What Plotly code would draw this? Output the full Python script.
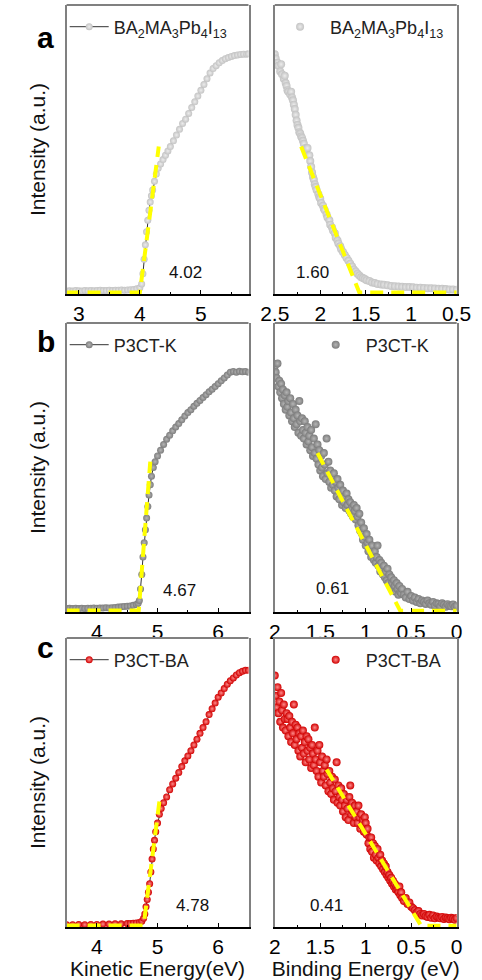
import plotly.graph_objects as go

# ---------------- data (normalised intensity) ----------------
KE_A_X = [2.80, 2.85, 2.90, 2.95, 3.00, 3.05, 3.10, 3.15, 3.20, 3.25, 3.30, 3.35, 3.40, 3.45, 3.50,
          3.55, 3.60, 3.65, 3.70, 3.75, 3.80, 3.85, 3.90, 3.95, 4.00, 4.03, 4.05, 4.07, 4.09, 4.11,
          4.13, 4.15, 4.17, 4.19, 4.21, 4.24, 4.27, 4.30, 4.34, 4.38, 4.42, 4.46, 4.50, 4.55, 4.60,
          4.65, 4.70, 4.75, 4.80, 4.85, 4.90, 4.95, 5.00, 5.05, 5.10, 5.15, 5.20, 5.25, 5.30, 5.35,
          5.40, 5.45, 5.50, 5.55, 5.60, 5.65, 5.70, 5.75, 5.78]
KE_A_Y = [.010, .011, .010, .012, .011, .010, .012, .011, .012, .011, .012, .013, .012, .012, .013,
          .012, .013, .013, .014, .013, .014, .015, .016, .018, .022, .035, .070, .120, .170, .215,
          .255, .290, .318, .340, .360, .390, .415, .435, .450, .465, .480, .495, .510, .530, .550,
          .570, .590, .605, .625, .645, .665, .685, .705, .725, .745, .765, .780, .790, .800, .808,
          .814, .818, .822, .825, .827, .829, .830, .830, .831]

BE_A_X = [2.50, 2.49, 2.47, 2.46, 2.44, 2.43, 2.42, 2.40, 2.39, 2.38, 2.37, 2.36, 2.35, 2.33, 2.32,
          2.31, 2.30, 2.29, 2.28, 2.27, 2.26, 2.25, 2.24, 2.23, 2.22, 2.21, 2.20, 2.19, 2.18, 2.16,
          2.15, 2.14, 2.12, 2.11, 2.10, 2.09, 2.08, 2.07, 2.06, 2.05, 2.04, 2.02, 2.01, 2.00, 1.99,
          1.97, 1.96, 1.95, 1.93, 1.92, 1.90, 1.89, 1.87, 1.86, 1.84, 1.83, 1.81, 1.80, 1.78, 1.77,
          1.75, 1.73, 1.71, 1.69, 1.67, 1.65, 1.63, 1.61, 1.59, 1.57, 1.55, 1.53, 1.51, 1.49, 1.46,
          1.43, 1.40, 1.37, 1.33, 1.30, 1.26, 1.22, 1.18, 1.14, 1.10, 1.06, 1.02, 0.98, 0.94, 0.90,
          0.86, 0.82, 0.78, 0.74, 0.70, 0.66, 0.62, 0.58, 0.54, 0.50]
BE_A_Y = [.830, .815, .800, .790, .770, .795, .760, .745, .755, .730, .720, .705, .700, .690, .700,
          .680, .670, .655, .640, .620, .600, .585, .575, .560, .555, .545, .540, .530, .520, .505,
          .500, .505, .480, .460, .440, .420, .405, .395, .380, .370, .360, .345, .335, .330, .315,
          .305, .295, .290, .275, .265, .255, .240, .230, .220, .210, .195, .185, .175, .165, .155,
          .145, .135, .125, .115, .105, .095, .085, .078, .070, .064, .058, .055, .052, .048, .045,
          .040, .038, .035, .033, .032, .030, .028, .027, .026, .025, .024, .024, .023, .022, .022,
          .021, .020, .020, .019, .018, .018, .017, .016, .016, .015]

KE_B_X = [3.50, 3.55, 3.60, 3.65, 3.70, 3.75, 3.80, 3.85, 3.90, 3.95, 4.00, 4.05, 4.10, 4.15, 4.20,
          4.25, 4.30, 4.35, 4.40, 4.45, 4.50, 4.55, 4.60, 4.65, 4.68, 4.70, 4.72, 4.74, 4.76, 4.78,
          4.80, 4.82, 4.84, 4.86, 4.88, 4.90, 4.93, 4.96, 5.00, 5.05, 5.10, 5.15, 5.20, 5.25, 5.30,
          5.35, 5.40, 5.45, 5.50, 5.55, 5.60, 5.65, 5.70, 5.75, 5.80, 5.85, 5.90, 5.95, 6.00, 6.05,
          6.10, 6.15, 6.20, 6.25, 6.30, 6.35, 6.40, 6.45, 6.50]
KE_B_Y = [.012, .013, .012, .013, .012, .013, .012, .013, .013, .014, .013, .014, .014, .015, .014,
          .015, .016, .017, .018, .019, .020, .021, .023, .026, .030, .040, .080, .130, .190, .240,
          .285, .325, .365, .405, .440, .470, .500, .520, .540, .560, .580, .598, .612, .627, .640,
          .652, .665, .678, .690, .700, .712, .722, .732, .742, .752, .762, .771, .780, .790, .800,
          .810, .820, .830, .832, .830, .833, .831, .832, .830]

BE_B_X = [2.00, 1.99, 1.98, 1.97, 1.96, 1.95, 1.94, 1.93, 1.92, 1.91, 1.90, 1.89, 1.88, 1.87, 1.86,
          1.85, 1.84, 1.83, 1.82, 1.81, 1.80, 1.79, 1.78, 1.77, 1.76, 1.75, 1.74, 1.73, 1.72, 1.71,
          1.70, 1.69, 1.68, 1.67, 1.66, 1.65, 1.64, 1.63, 1.62, 1.61, 1.60, 1.59, 1.58, 1.57, 1.56,
          1.55, 1.54, 1.53, 1.52, 1.51, 1.50, 1.49, 1.48, 1.47, 1.46, 1.45, 1.44, 1.43, 1.42, 1.41,
          1.40, 1.39, 1.38, 1.37, 1.36, 1.35, 1.34, 1.33, 1.32, 1.31, 1.30, 1.29, 1.28, 1.27, 1.26,
          1.25, 1.24, 1.23, 1.22, 1.21, 1.20, 1.19, 1.18, 1.17, 1.16, 1.15, 1.14, 1.13, 1.12, 1.11,
          1.10, 1.09, 1.08, 1.07, 1.06, 1.05, 1.04, 1.03, 1.02, 1.01, 1.00, 0.99, 0.98, 0.97, 0.96,
          0.95, 0.94, 0.93, 0.92, 0.91, 0.90, 0.89, 0.88, 0.87, 0.86, 0.85, 0.84, 0.83, 0.82, 0.81,
          0.80, 0.79, 0.78, 0.77, 0.76, 0.75, 0.74, 0.73, 0.72, 0.71, 0.70, 0.69, 0.68, 0.67, 0.66,
          0.65, 0.64, 0.63, 0.62, 0.61, 0.60, 0.58, 0.56, 0.54, 0.52, 0.50, 0.48, 0.46, 0.44, 0.42,
          0.40, 0.38, 0.36, 0.34, 0.32, 0.30, 0.28, 0.26, 0.24, 0.22, 0.20, 0.18, 0.16, 0.14, 0.12,
          0.10, 0.08, 0.06, 0.04, 0.02, 0.00]
BE_B_Y = [.85, .83, .81, .86, .78, .80, .76, .79, .74, .77, .72, .75, .70, .76, .71,
          .73, .68, .74, .69, .66, .72, .67, .64, .70, .65, .68, .62, .73, .66, .61,
          .67, .63, .60, .66, .62, .58, .64, .59, .61, .56, .63, .57, .54, .60, .55,
          .65, .53, .58, .51, .56, .49, .54, .50, .47, .55, .51, .46, .60, .48, .52,
          .45, .49, .43, .47, .44, .48, .42, .45, .40, .46, .43, .39, .44, .41, .37,
          .42, .38, .40, .36, .41, .37, .39, .35, .38, .34, .36, .33, .37, .35, .32,
          .36, .33, .30, .34, .28, .31, .27, .25, .29, .26, .23, .27, .24, .21, .25,
          .22, .19, .23, .20, .18, .21, .17, .19, .23, .16, .18, .14, .17, .15, .13,
          .16, .12, .14, .11, .15, .10, .13, .09, .12, .10, .08, .11, .09, .07, .10,
          .08, .06, .09, .07, .065, .08, .06, .05, .07, .045, .055, .04, .05, .035, .045,
          .03, .04, .035, .028, .04, .03, .025, .035, .022, .03, .028, .02, .03, .025, .018,
          .027, .022, .02, .026, .018, .022]

KE_C_X = [3.50, 3.60, 3.70, 3.80, 3.90, 4.00, 4.10, 4.20, 4.30, 4.40, 4.50, 4.55, 4.60, 4.65, 4.70,
          4.74, 4.77, 4.79, 4.81, 4.83, 4.85, 4.87, 4.89, 4.91, 4.93, 4.95, 4.97, 5.00, 5.03, 5.06,
          5.10, 5.15, 5.20, 5.25, 5.30, 5.35, 5.40, 5.45, 5.50, 5.55, 5.60, 5.65, 5.70, 5.75, 5.80,
          5.85, 5.90, 5.95, 6.00, 6.05, 6.10, 6.15, 6.20, 6.25, 6.30, 6.35, 6.40, 6.45, 6.50]
KE_C_Y = [.008, .008, .009, .008, .009, .009, .010, .010, .011, .011, .012, .012, .013, .014, .016,
          .020, .030, .045, .070, .095, .120, .150, .190, .235, .270, .300, .330, .360, .390, .410,
          .430, .450, .475, .495, .515, .535, .555, .575, .592, .610, .630, .650, .670, .690, .710,
          .735, .755, .775, .795, .810, .825, .840, .852, .862, .872, .880, .885, .888, .888]

BE_C_X = BE_B_X[:]
BE_C_Y = [.87, .80, .76, .83, .74, .78, .71, .81, .75, .69, .77, .72, .68, .74, .72,
          .66, .73, .69, .64, .71, .67, .77, .63, .70, .65, .69, .61, .67, .59, .66,
          .62, .68, .60, .64, .57, .66, .61, .65, .58, .62, .55, .63, .60, .56, .69,
          .58, .54, .61, .52, .63, .57, .50, .59, .54, .52, .56, .49, .58, .53, .47,
          .54, .50, .46, .52, .48, .44, .51, .47, .57, .43, .49, .45, .42, .48, .44,
          .40, .46, .42, .38, .44, .41, .37, .45, .49, .39, .43, .40, .36, .42, .38,
          .40, .36, .42, .38, .34, .39, .35, .37, .33, .38, .36, .32, .34, .29, .31,
          .27, .31, .26, .29, .24, .28, .25, .23, .27, .24, .22, .25, .21, .23, .20,
          .22, .19, .21, .18, .19, .17, .18, .16, .17, .15, .16, .14, .15, .13, .14,
          .13, .12, .14, .11, .12, .10, .09, .10, .08, .085, .07, .065, .058, .05, .055,
          .045, .04, .045, .038, .035, .042, .032, .04, .03, .036, .033, .03, .035, .028, .033,
          .03, .027, .032, .029, .025, .031]

# extrapolation lines (yellow dashed): baseline + linear fit
FIT_A_L = ([2.80, 4.00, 4.31], [0.005, 0.005, 0.51])
FIT_A_R = ([2.21, 1.57, 0.50], [0.51, 0.005, 0.005])
FIT_B_L = ([3.50, 4.69, 4.88], [0.005, 0.005, 0.52])
FIT_B_R = ([1.53, 0.62, 0.00], [0.55, 0.004, 0.004])
FIT_C_L = ([3.50, 4.77, 5.04], [0.005, 0.005, 0.45])
FIT_C_R = ([1.43, 0.39, 0.00], [0.545, 0.004, 0.004])

VALUES = ["4.02", "1.60", "4.67", "0.61", "4.78", "0.41"]
VALUE_POS = [(4.75, 0.073), (2.08, 0.073), (5.36, 0.073), (1.36, 0.083), (5.57, 0.076), (1.43, 0.076)]
NAMES = ["BA<sub>2</sub>MA<sub>3</sub>Pb<sub>4</sub>I<sub>13</sub>", "P3CT-K", "P3CT-BA"]
LETTERS = ["a", "b", "c"]

# ---------------- layout helpers ----------------
W, H = 482, 980
FONT = "Liberation Sans, Arial, sans-serif"
ROWS = [(5, 294), (323, 612), (638, 927)]
COLS = [(55, 249), (277, 471)]
XRANGES = [[2.8, 5.78], [2.5, 0.5], [3.5, 6.5], [2.0, 0.0], [3.5, 6.5], [2.0, 0.0]]
XTICKS = [[3, 4, 5], [2.5, 2, 1.5, 1, 0.5], [4, 5, 6], [2, 1.5, 1, 0.5, 0], [4, 5, 6], [2, 1.5, 1, 0.5, 0]]
XTEXT = [["3", "4", "5"], ["2.5", "2", "1.5", "1", "0.5"], ["4", "5", "6"],
         ["2", "1.5", "1", "0.5", "0"], ["4", "5", "6"], ["2", "1.5", "1", "0.5", "0"]]
MINOR = [0.5, 0.25, 0.5, 0.25, 0.5, 0.25]
MCOL = ["#c3c3c3", "#7d7d7d", "#d00000"]
MCEN = ["#ececec", "#b5b5b5", "#ff8a8a"]
LEG_Y = [27, 345, 660]
LEG_LX = [53, 53, 53]
LEG_RX = [272, 310, 310]

DATA = [(KE_A_X, KE_A_Y), (BE_A_X, BE_A_Y), (KE_B_X, KE_B_Y), (BE_B_X, BE_B_Y), (KE_C_X, KE_C_Y), (BE_C_X, BE_C_Y)]
FITS = [FIT_A_L, FIT_A_R, FIT_B_L, FIT_B_R, FIT_C_L, FIT_C_R]

fig = go.Figure()
layout = dict(width=W, height=H, margin=dict(l=0, r=0, t=0, b=0),
              paper_bgcolor="white", plot_bgcolor="white",
              font=dict(family=FONT, color="black"), showlegend=True)
annotations = []
shapes = []

for i in range(6):
    r, c = i // 2, i % 2
    n = "" if i == 0 else str(i + 1)
    xs, ys = DATA[i]
    leg = "legend" if i == 0 else "legend" + str(i + 1)
    fig.add_trace(go.Scatter(
        x=xs, y=ys, xaxis="x" + n, yaxis="y" + n, name=NAMES[r], legend=leg,
        mode="lines+markers" if c == 0 else "markers",
        line=dict(color="#333333", width=1),
        marker=dict(size=7 if c == 0 else 8, color=MCOL[r], line=dict(width=0),
                    gradient=dict(type="radial", color=MCEN[r])),
        cliponaxis=True))
    fx, fy = FITS[i]
    fig.add_trace(go.Scatter(
        x=fx, y=fy, xaxis="x" + n, yaxis="y" + n, mode="lines", showlegend=False,
        line=dict(color="#ffff00", width=4, dash="13px,8px")))

    x0, x1 = COLS[c]
    y0, y1 = ROWS[r]
    layout["xaxis" + n] = dict(
        domain=[x0 / W, x1 / W], anchor="y" + n, range=XRANGES[i],
        tickmode="array", tickvals=XTICKS[i], ticktext=XTEXT[i],
        ticks="inside", ticklen=4, tickwidth=1, tickcolor="black",
        minor=dict(dtick=MINOR[i], ticks="inside", ticklen=2.5, tickwidth=1, tickcolor="black", showgrid=False),
        showline=True, linecolor="black", linewidth=1.5, mirror=False,
        showgrid=False, zeroline=False,
        tickfont=dict(size=21, family=FONT, color="black"))
    if r == 2:
        layout["xaxis" + n]["title"] = dict(
            text="Kinetic Energy(eV)" if c == 0 else "Binding Energy (eV)",
            font=dict(size=21, family=FONT, color="#111111"), standoff=3)
    layout["yaxis" + n] = dict(
        domain=[1 - y1 / H, 1 - y0 / H], anchor="x" + n, range=[0, 1],
        showticklabels=False, ticks="", showgrid=False, zeroline=False,
        showline=True, mirror=True, linecolor="#808080", linewidth=2)
    if c == 0:
        layout["yaxis" + n]["title"] = dict(text="Intensity (a.u.)",
                                            font=dict(size=21, family=FONT, color="#111111"), standoff=13)
    shapes.append(dict(type="line", xref="x" + n + " domain", yref="y" + n + " domain",
                       x0=0, x1=1, y0=1, y1=1, line=dict(color="#808080", width=2)))
    vx, vy = VALUE_POS[i]
    annotations.append(dict(text=VALUES[i], x=vx, y=vy, xref="x" + n, yref="y" + n,
                            showarrow=False, font=dict(size=17, family=FONT, color="#111111")))
    lx = LEG_LX[r] if c == 0 else LEG_RX[r]
    layout[leg] = dict(x=lx / W, y=1 - LEG_Y[r] / H, xanchor="left", yanchor="middle",
                       bgcolor="rgba(0,0,0,0)", borderwidth=0,
                       itemwidth=39 if c == 0 else 50,
                       font=dict(size=18, family=FONT, color="#222222"))

LETTER_Y = [19, 341, 647]
for r in range(3):
    annotations.append(dict(text="<b>" + LETTERS[r] + "</b>", x=21 / W, y=1 - LETTER_Y[r] / H,
                            xref="paper", yref="paper", showarrow=False,
                            font=dict(size=30, family=FONT, color="black")))

layout["annotations"] = annotations
layout["shapes"] = shapes
fig.update_layout(**layout)
fig.write_html("out.html")
